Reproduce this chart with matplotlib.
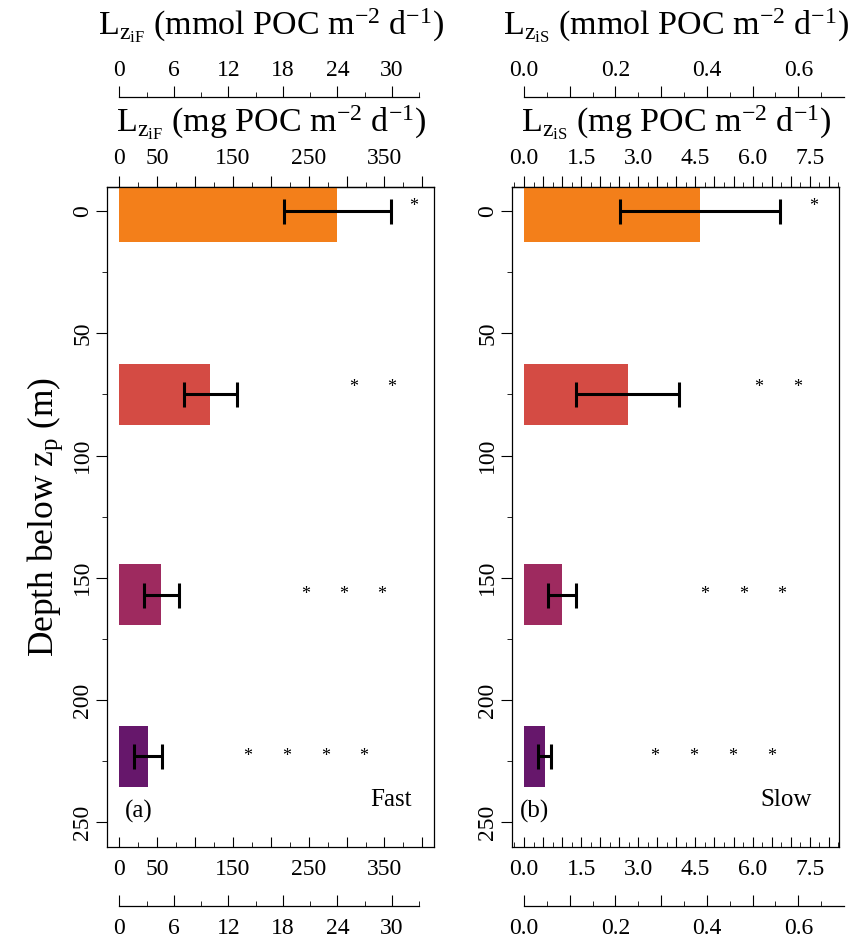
import numpy as np
import matplotlib
matplotlib.use('Agg')
import matplotlib.pyplot as plt
from matplotlib.ticker import MultipleLocator

plt.rcParams['font.family'] = 'Liberation Serif'
plt.rcParams['mathtext.fontset'] = 'custom'
plt.rcParams['mathtext.rm'] = 'Liberation Serif'
plt.rcParams['mathtext.it'] = 'Liberation Serif:italic'
plt.rcParams['axes.linewidth'] = 0.9

# depth below z_p of each layer (m) and bar colours
depth = [0, 75, 157, 223]
colors = ['#F37F1A', '#D44B44', '#9E2A5F', '#66176B']

# fast sinking flux (mg POC m-2 d-1)
fast_mg = [288, 120, 55.5, 38]
fast_err = [70, 35, 23.5, 18]
# slow sinking flux (mg POC m-2 d-1)
slow_mg = [4.61, 2.72, 1.0, 0.54]
slow_err = [2.1, 1.35, 0.37, 0.17]

# significance asterisks
fast_stars = [[389], [309, 360], [246, 296, 346], [170, 221, 272, 322]]
slow_stars = [[7.61], [6.15, 7.17], [4.75, 5.76, 6.76], [3.44, 4.45, 5.47, 6.5]]
star_depth = [-2, 72, 157, 223]

MG_PER_MMOL = 12.0
TICK_FS = 17
TITLE_FS = 24.5

fig = plt.figure(figsize=(8.52, 9.42), dpi=100)
W, H = 852.0, 942.0
box_top, box_bot, box_w = 186.7, 846.7, 327.0


def panel(left_px, vals, errs, stars, xlim, mg_ticks, mg_labels, mg_minor,
          mmol_ticks, mmol_labels, mmol_minor, mmol_end, sub, tag, speed,
          tag_x, speed_x):
    ax = fig.add_axes([left_px / W, (H - box_bot) / H, box_w / W,
                       (box_bot - box_top) / H])
    ax.barh(depth, vals, height=25, color=colors, edgecolor='none', zorder=1)
    ax.errorbar(vals, depth, xerr=errs, fmt='none', ecolor='black',
                elinewidth=2.2, capsize=9, capthick=2.2, zorder=3)
    for row, xs in enumerate(stars):
        for x in xs:
            ax.text(x, star_depth[row], '*', ha='center', va='center',
                    fontsize=13)
    ax.set_xlim(xlim)
    ax.set_ylim(260, -10)

    # depth axis
    ax.set_yticks([0, 50, 100, 150, 200, 250])
    ax.yaxis.set_minor_locator(MultipleLocator(25))
    ax.tick_params(axis='y', which='major', direction='out', length=8,
                   labelsize=TICK_FS, pad=2, labelrotation=90)
    ax.tick_params(axis='y', which='minor', direction='out', length=3.5)
    for lab in ax.get_yticklabels():
        lab.set_va('center')

    # bottom mg axis (ticks inside)
    ax.set_xticks(mg_ticks, labels=mg_labels)
    ax.xaxis.set_minor_locator(MultipleLocator(mg_minor))
    ax.tick_params(axis='x', which='major', direction='in', length=7,
                   labelsize=TICK_FS, pad=8.5)
    ax.tick_params(axis='x', which='minor', direction='in', length=3.5)

    ident = (lambda x: x, lambda x: x)
    conv = (lambda x: x / MG_PER_MMOL, lambda x: x * MG_PER_MMOL)

    # top mg axis (ticks outside)
    top = ax.secondary_xaxis('top', functions=ident)
    top.set_xticks(mg_ticks, labels=mg_labels)
    top.xaxis.set_minor_locator(MultipleLocator(mg_minor))
    top.tick_params(which='major', direction='out', length=8,
                    labelsize=TICK_FS, pad=4.5)
    top.tick_params(which='minor', direction='out', length=3.5)

    # mmol axes above and below
    y_top = (box_bot - 96.7) / (box_bot - box_top)
    y_bot = (box_bot - 906.0) / (box_bot - box_top)
    for loc, spine, direction, pad in [(y_top, 'top', 'out', 3.5),
                                       (y_bot, 'bottom', 'in', 8.5)]:
        sec = ax.secondary_xaxis(loc, functions=conv)
        sec.set_xticks(mmol_ticks, labels=mmol_labels)
        sec.xaxis.set_minor_locator(MultipleLocator(mmol_minor))
        sec.tick_params(which='major', direction=direction, length=8,
                        labelsize=TICK_FS, pad=pad)
        sec.tick_params(which='minor', direction=direction, length=3.5)
        sec.spines[spine].set_bounds(0, mmol_end)

    cx = (left_px + box_w / 2) / W
    fig.text(cx, (H - 35) / H,
             r'L$_{\mathrm{z_{i%s}}}$ (mmol POC m$^{-2}$ d$^{-1}$)' % sub,
             ha='center', va='baseline', fontsize=TITLE_FS)
    fig.text(cx, (H - 131.7) / H,
             r'L$_{\mathrm{z_{i%s}}}$ (mg POC m$^{-2}$ d$^{-1}$)' % sub,
             ha='center', va='baseline', fontsize=TITLE_FS)
    ax.text(tag_x, 0.044, tag, transform=ax.transAxes, ha='left',
            va='baseline', fontsize=18)
    ax.text(speed_x, 0.062, speed, transform=ax.transAxes, ha='right',
            va='baseline', fontsize=18)
    return ax


panel(107.3, fast_mg, fast_err, fast_stars, (-15.8, 415.8),
      list(range(0, 401, 50)),
      ['0', '50', '', '150', '', '250', '', '350', ''], 25,
      list(range(0, 31, 6)), [str(v) for v in range(0, 31, 6)], 3, 33,
      'F', '(a)', 'Fast', 0.054, 0.932)

slow_ticks = list(np.arange(0, 8.01, 0.5))
slow_labels = ['%.1f' % v if abs(v / 1.5 - round(v / 1.5)) < 1e-6 else ''
               for v in slow_ticks]
mmol_ticks = list(np.arange(0, 0.71, 0.1))
mmol_labels = ['%.1f' % v if round(v * 10) % 2 == 0 else '' for v in mmol_ticks]
panel(512.3, slow_mg, slow_err, slow_stars, (-0.307, 8.276),
      slow_ticks, slow_labels, 0.25,
      mmol_ticks, mmol_labels, 0.05, 0.7,
      'S', '(b)', 'Slow', 0.0235, 0.916)

fig.text(45 / W, (H - 516.7) / H, r'Depth below z$_{\mathrm{p}}$ (m)',
         rotation=90, ha='center', va='center', fontsize=25.5)

fig.savefig('out.png', dpi=100)
